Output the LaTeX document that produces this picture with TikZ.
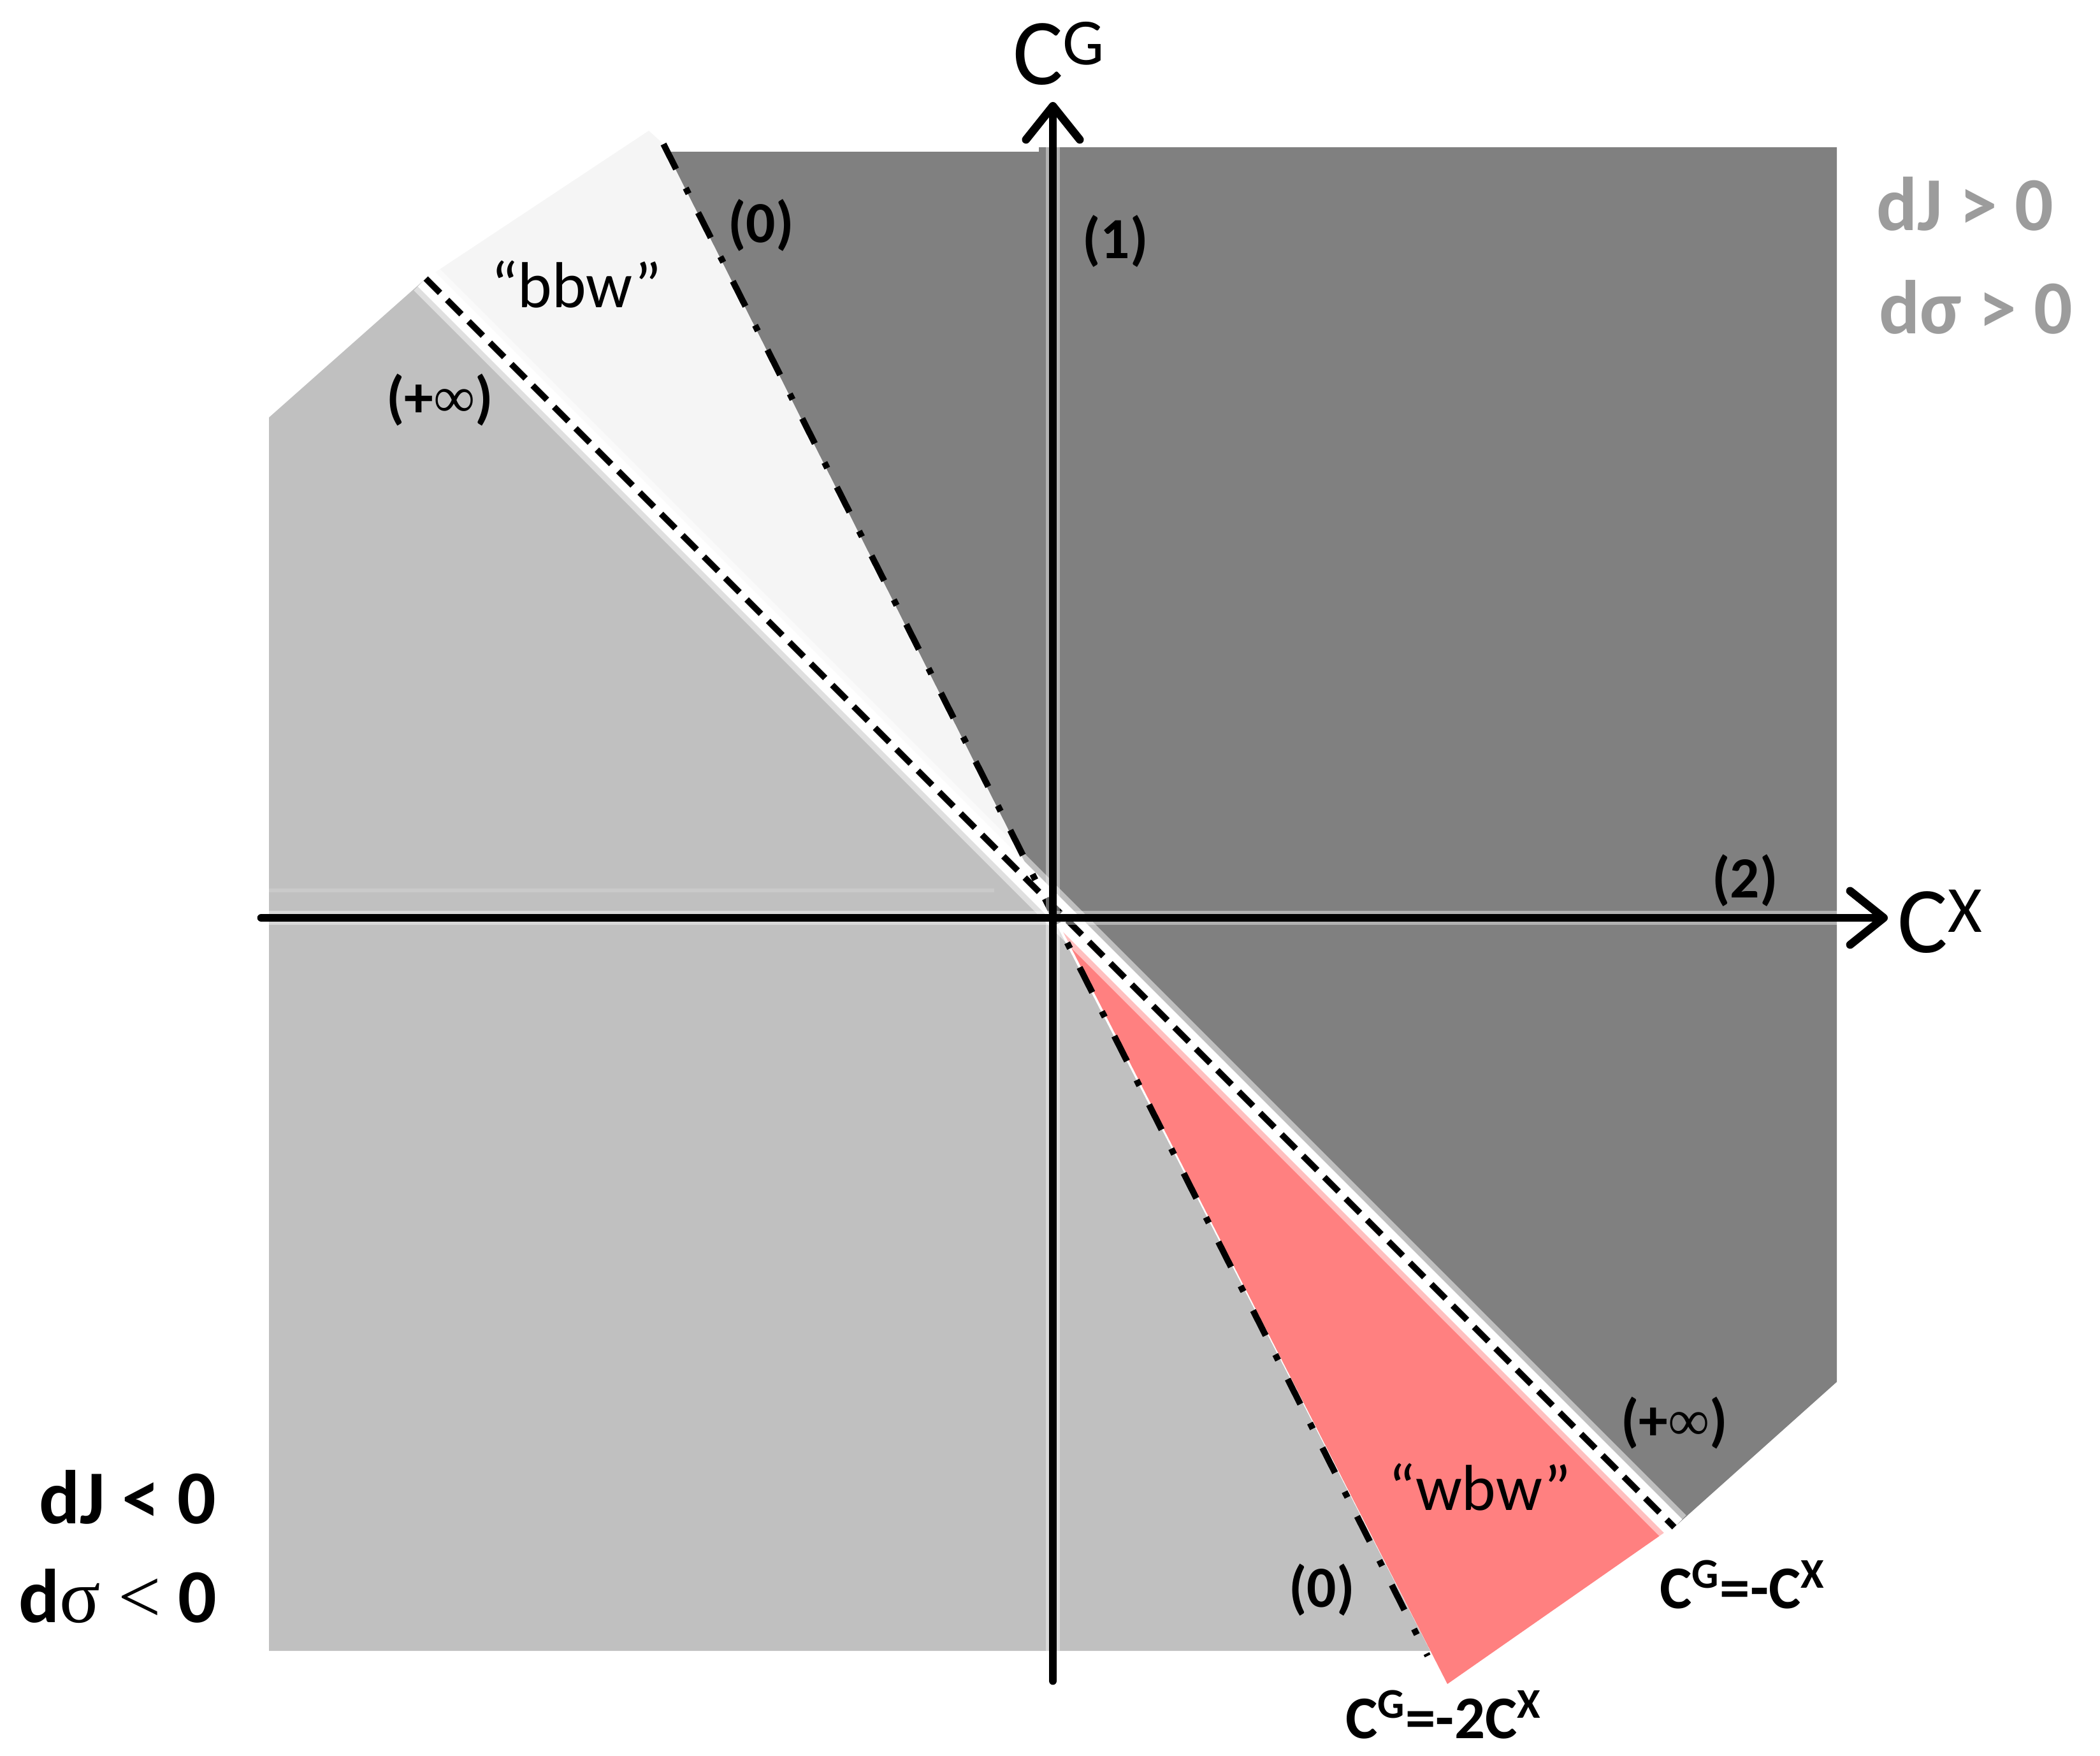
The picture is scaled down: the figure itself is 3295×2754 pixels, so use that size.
\documentclass[tikz,border=0pt]{standalone}
\usepackage{fontspec}
\setmainfont{Carlito}
\newfontfamily\serifsym{Liberation Serif}
\usetikzlibrary{arrows.meta}
\definecolor{darkreg}{RGB}{128,128,128}
\definecolor{lightreg}{RGB}{192,192,192}
\definecolor{seamcol}{RGB}{202,202,202}
\definecolor{bbwreg}{RGB}{245,245,245}
\definecolor{wbwreg}{RGB}{255,128,128}
\definecolor{graytxt}{RGB}{156,156,156}
\begin{document}
\begin{tikzpicture}[x=0.01cm,y=-0.01cm,
  axisline/.style={line width=3.6pt, line cap=round, line join=round,
    -{Straight Barb[length=15pt,width=24pt,line width=3.6pt,round]}},
  axishalo/.style={white, line width=6.5pt, opacity=0.4},
  halo/.style={white, line width=10pt},
  softhalo/.style={white, line width=15pt, opacity=0.5},
  dashline/.style={line width=2.8pt, dash pattern=on 9pt off 4.5pt},
  dashdotline/.style={line width=2.8pt, dash pattern=on 12.5pt off 9.5pt on 2.8pt off 9.5pt},
  lbl/.style={font=\bfseries\fontsize{26}{28}\selectfont, inner sep=0pt},
  bigl/.style={font=\fontsize{42}{44}\selectfont, inner sep=0pt},
  quotel/.style={font=\fontsize{29}{31}\selectfont, inner sep=0pt},
  eql/.style={font=\bfseries\fontsize{27}{29}\selectfont, inner sep=0pt},
  condl/.style={font=\bfseries\fontsize{34}{36}\selectfont, inner sep=0pt},
  condg/.style={condl, text=graytxt}
]
\useasboundingbox (0,0) rectangle (3295,2754);

% key points
\coordinate (O) at (1652,1440);
\coordinate (dU) at (668,437);     % dashed line, upper end
\coordinate (dL) at (2627,2396);   % dashed line, lower end
\coordinate (ddU) at (1041,226);   % dash-dot line, upper end
\coordinate (ddL) at (2240,2598);  % dash-dot line, lower end

% regions
\fill[bbwreg] (dU) -- (1018,205) -- (ddU) -- (O) -- cycle;
\fill[lightreg] (422,655) -- (dU) -- (O) -- (2244,2590) -- (422,2590) -- cycle;
\fill[darkreg] (1046,238) -- (1630,238) -- (1630,231) -- (2882,231) -- (2882,2168) -- (dL) -- (O) -- cycle;
\fill[wbwreg] (1668,1462) -- (2612,2404) -- (2271,2642) -- cycle;
\draw[seamcol, line width=1.8pt] (422,1397) -- (1560,1397);

% boundary lines
\draw[softhalo] (dU) -- (dL);
\draw[halo] (dU) -- (dL);
\draw[dashline] (dU) -- (dL);
\draw[dashdotline] (ddU) -- (ddL);

% axes
\coordinate (xL) at (410,1440);
\coordinate (xR) at (2962,1440);
\coordinate (yB) at (1652,2637);
\coordinate (yT) at (1652,160);
\draw[axishalo] (xL) -- (2930,1440);
\draw[axishalo] (yB) -- (1652,190);
\draw[axisline] (xL) -- (xR);
\draw[axisline] (yB) -- (yT);

% labels
\node[bigl] (cg) at (1662,84) {C\textsuperscript{G}};
\node[bigl] (cx) at (3045,1446) {C\textsuperscript{X}};
\node[lbl] (l0u) at (1194,353) {(0)};
\node[lbl] (l1) at (1750,378) {(1)};
\node[lbl] (l2) at (2738,1381) {(2)};
\node[lbl] (linfu) at (690,627) {(+{\serifsym\mdseries ∞})};
\node[lbl] (linfl) at (2627,2232) {(+{\serifsym\mdseries ∞})};
\node[lbl] (l0l) at (2074,2494) {(0)};
\node[quotel] (bbw) at (904,446) {“bbw”};
\node[quotel] (wbw) at (2322,2333) {“wbw”};
\node[eql] (eq1) at (2734,2486) {C\textsuperscript{G}=-C\textsuperscript{X}};
\node[eql] (eq2) at (2265,2690) {C\textsuperscript{G}=-2C\textsuperscript{X}};
\node[condg] (gj) at (3083,320) {dJ > 0};
\node[condg] (gs) at (3100,482) {dσ > 0};
\node[condl] (bj) at (200,2349) {dJ < 0};
\node[condl] (bs) at (185,2504) {d{\serifsym\mdseries σ} {\serifsym\mdseries <} 0};
\end{tikzpicture}
\end{document}
